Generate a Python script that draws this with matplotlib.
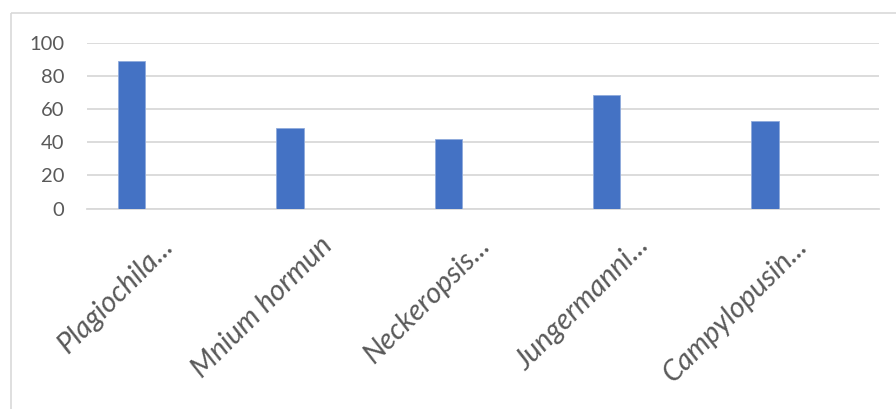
import matplotlib
matplotlib.use('Agg')
import matplotlib.pyplot as plt
import matplotlib.transforms as mtransforms
from matplotlib.patches import Rectangle
import numpy as np

# chart data
species = ['Plagiochila...', 'Mnium hormun', 'Neckeropsis...', 'Jungermanni...', 'Campylopusin...']
values = [88.8, 48.6, 42.0, 68.3, 52.6]
yticks = [0, 20, 40, 60, 80, 100]

bar_color = '#4472C4'
grid_color = '#D9D9D9'
text_color = '#595959'


def main():
	plt.rcParams['font.family'] = ['Lato', 'DejaVu Sans']

	fig = plt.figure(figsize=(8.96, 4.09), dpi=100)

	# chart area border (runs off the right and bottom of the picture)
	fig.patches.append(Rectangle((11, 409 - 13), 1000, -1000, transform=None,
		fill=False, edgecolor=grid_color, linewidth=1.2))

	ax = fig.add_axes([87.3 / 896, 1 - 208.7 / 409, 792 / 896, (208.7 - 42.5) / 409])

	x = np.arange(len(species))
	ax.bar(x - 0.221, values, width=0.174, color=bar_color, edgecolor='#8FAADC', linewidth=0.6, zorder=3)

	ax.set_xlim(-0.5, len(species) - 0.5)
	ax.set_ylim(0, 100)
	ax.set_yticks(yticks)
	ax.yaxis.grid(True, color=grid_color, linewidth=1.3, zorder=0)

	for s in ['top', 'right', 'left']:
		ax.spines[s].set_visible(False)
	ax.spines['bottom'].set_color(grid_color)
	ax.spines['bottom'].set_linewidth(1.3)

	ax.tick_params(axis='y', length=0, pad=16.5, labelsize=14.5, labelcolor=text_color)
	ax.tick_params(axis='x', length=0, pad=17, labelcolor=text_color)

	ax.set_xticks(x)
	ax.set_xticklabels(species, rotation=45, ha='right', va='top', rotation_mode='anchor',
		fontsize=21, style='italic')

	# nudge the slanted labels a little to the left
	shift = mtransforms.ScaledTranslation(-6 / 100, 0, fig.dpi_scale_trans)
	for lab in ax.get_xticklabels():
		lab.set_transform(lab.get_transform() + shift)

	plt.savefig('out.png', dpi=100)
	plt.close()


if __name__ == '__main__':
	main()
